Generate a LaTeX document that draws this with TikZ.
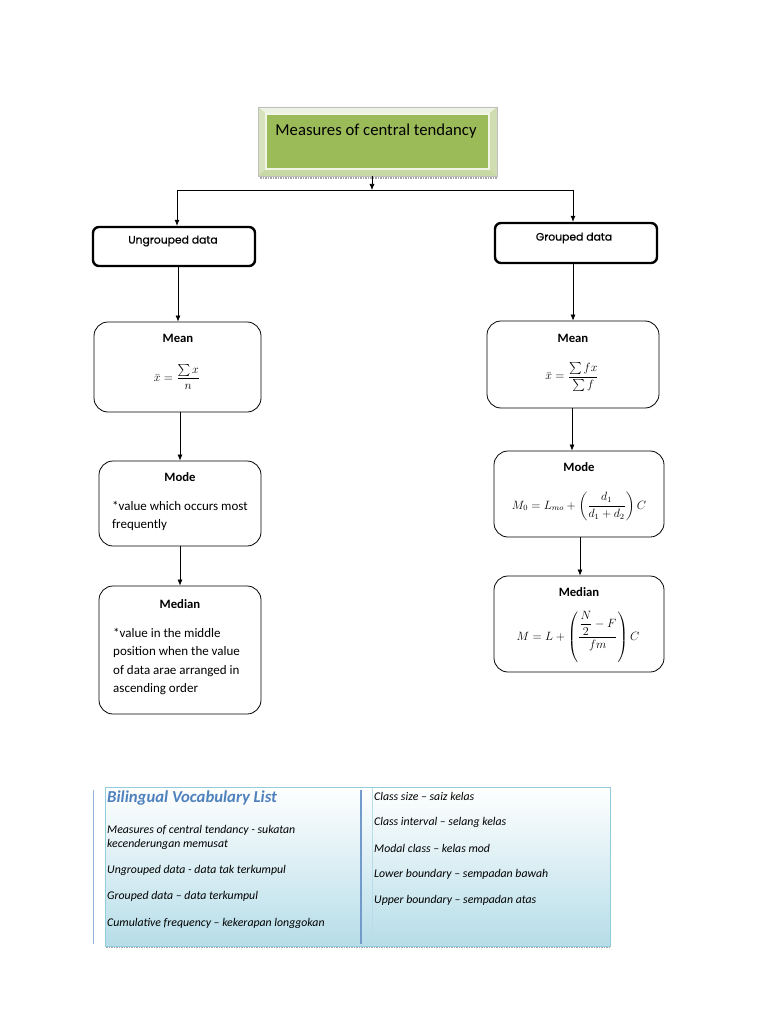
\documentclass[tikz,border=0pt]{standalone}
\usepackage{amsmath}
\usepackage{fontspec}
\setmainfont{Carlito}
\newfontfamily\gothic[FakeBold=0.7]{Poppins}
\usetikzlibrary{arrows.meta}
\definecolor{tgreen}{HTML}{9BBB59}
\definecolor{tframe}{HTML}{DCE6C6}
\definecolor{vocblue}{HTML}{B6DDE8}
\definecolor{vocedge}{HTML}{93CDDD}
\definecolor{headblue}{HTML}{4F81BD}
\definecolor{sideblue}{HTML}{95B3D7}
\begin{document}
\begin{tikzpicture}[x=1pt,y=-1pt,
  arr/.style={-{Latex[length=6pt,width=5pt]},line width=0.7pt},
  rbox/.style={draw,rounded corners=14pt,line width=0.8pt,inner sep=0},
  hbox/.style={draw,rounded corners=6pt,line width=2.4pt,inner sep=0},
  head/.style={font=\bfseries\fontsize{12.7}{15}\selectfont,inner sep=0},
  hdtxt/.style={font=\gothic\fontsize{10.8}{13}\selectfont,inner sep=0},
  body/.style={font=\fontsize{13}{18.3}\selectfont,align=left,anchor=north west,inner sep=0},
  voc/.style={font=\itshape\fontsize{11.8}{14}\selectfont,anchor=west,inner sep=0,align=left},
  frm/.style={font=\fontsize{12}{14}\selectfont,inner sep=0},
]
\useasboundingbox (0,0) rectangle (768,1024);
\fill[white] (0,0) rectangle (768,1024);

% title box
\fill[tframe] (258,107) rectangle (497,176);
\fill[white!50!tframe] (258,107) -- (497,107) -- (490,113) -- (265,113) -- cycle;
\fill[tframe!90!tgreen] (258,107) -- (265,113) -- (265,170) -- (258,176) -- cycle;
\fill[tframe!80!tgreen] (497,107) -- (490,113) -- (490,170) -- (497,176) -- cycle;
\fill[tframe!70!tgreen] (258,176) -- (265,170) -- (490,170) -- (497,176) -- cycle;
\draw[gray!50,line width=0.4pt] (258,107) rectangle (497,176);
\fill[tgreen] (265,113) rectangle (490,170);
\draw[white!85!tgreen,line width=1.4pt] (266,114) rectangle (489,169);
\draw[gray!70,line width=2pt,dash pattern=on 1.5pt off 1pt] (260,178) -- (497,178);
\node[inner sep=0,minimum width=239pt,minimum height=69pt] (title) at (377.5,141.5) {};
\node[inner sep=0,font=\fontsize{16.7}{19}\selectfont] (titletxt) at (376,131) {Measures of central tendancy};

% level 1 boxes
\node[hbox,minimum width=162pt,minimum height=39pt] (ung) at (174,246.5) {};
\node[hdtxt] (ungtxt) at (173,241) {Ungrouped data};
\node[hbox,minimum width=162pt,minimum height=40pt] (grp) at (576,243) {};
\node[hdtxt] (grptxt) at (574,238) {Grouped data};

% connectors from title
\coordinate (tj) at (372,190);
\coordinate (hl) at (177,190);
\coordinate (hr) at (573,190);
\draw[arr] (title.south -| tj) -- (tj);
\draw[line width=0.7pt] (hl) -- (hr);
\draw[arr] (hl) -- (hl |- ung.north);
\draw[arr] (hr) -- (hr |- grp.north);

% left column
\node[rbox,minimum width=167pt,minimum height=90pt] (lmean) at (177.5,367) {};
\node[head] (lmeanh) at (178,338) {Mean};
\node[frm] (lmeanf) at (177,377) {$\bar{x}=\dfrac{\sum x}{n}$};

\node[rbox,minimum width=162pt,minimum height=85pt] (lmode) at (180,503.5) {};
\node[head] (lmodeh) at (180,477) {Mode};
\node[body] (lmodet) at (112,501) {*value which occurs most\\frequently};

\node[rbox,minimum width=162pt,minimum height=128pt] (lmed) at (180,650) {};
\node[head] (lmedh) at (180,604) {Median};
\node[body] (lmedt) at (113,628) {*value in the middle\\position when the value\\of data arae arranged in\\ascending order};

\draw[arr] (ung.south -| lmeanh) -- (lmean.north -| lmeanh);
\draw[arr] (lmean.south -| lmode.north) -- (lmode.north);
\draw[arr] (lmode.south -| lmed.north) -- (lmed.north);

% right column
\node[rbox,minimum width=172pt,minimum height=87pt] (rmean) at (573,364.5) {};
\node[head] (rmeanh) at (573,338) {Mean};
\node[frm] (rmeanf) at (572,377) {$\bar{x}=\dfrac{\sum fx}{\sum f}$};

\node[rbox,minimum width=170pt,minimum height=86pt] (rmode) at (579,494) {};
\node[head] (rmodeh) at (579,467) {Mode};
\node[frm] (rmodef) at (579,506) {$M_0=L_{mo}+\left(\dfrac{d_1}{d_1+d_2}\right)C$};

\node[rbox,minimum width=170pt,minimum height=96pt] (rmed) at (579,624) {};
\node[head] (rmedh) at (579,592) {Median};
\node[frm] (rmedf) at (578,637) {$M=L+\left(\dfrac{\dfrac{N}{2}-F}{fm}\right)C$};

\coordinate (ra) at (573,0);
\coordinate (rb) at (572,0);
\coordinate (rc) at (580,0);
\draw[arr] (grp.south -| ra) -- (rmean.north -| ra);
\draw[arr] (rmean.south -| rb) -- (rmode.north -| rb);
\draw[arr] (rmode.south -| rc) -- (rmed.north -| rc);

% vocabulary box
\shade[top color=white,bottom color=vocblue] (105,787) rectangle (610,946);
\draw[vocedge,line width=0.6pt] (105,787) rectangle (610,946);
\draw[gray!70,line width=1.5pt,dash pattern=on 1.5pt off 1pt] (106,947.5) -- (610,947.5);
\draw[sideblue,line width=1pt] (93,790) -- (93,944);
\draw[headblue!80,line width=1.4pt] (361,790) -- (361,944);
\draw[vocblue,line width=0.8pt] (372,788) -- (372,945);
\node[anchor=west,inner sep=0,font=\bfseries\itshape\fontsize{16.7}{19}\selectfont,text=headblue] (vtitle) at (107,798) {Bilingual Vocabulary List};
\node[voc] (v1) at (107,830) {Measures of central tendancy - sukatan};
\node[voc] (v1b) at (107,844) {kecenderungan memusat};
\node[voc] (v2) at (107,870) {Ungrouped data - data tak terkumpul};
\node[voc] (v3) at (107,896) {Grouped data – data terkumpul};
\node[voc] (v4) at (107,923) {Cumulative frequency – kekerapan longgokan};
\node[voc] (w1) at (374,796) {Class size – saiz kelas};
\node[voc] (w2) at (374,822) {Class interval – selang kelas};
\node[voc] (w3) at (374,848) {Modal class – kelas mod};
\node[voc] (w4) at (374,874) {Lower boundary – sempadan bawah};
\node[voc] (w5) at (374,900) {Upper boundary – sempadan atas};
\end{tikzpicture}
\end{document}
